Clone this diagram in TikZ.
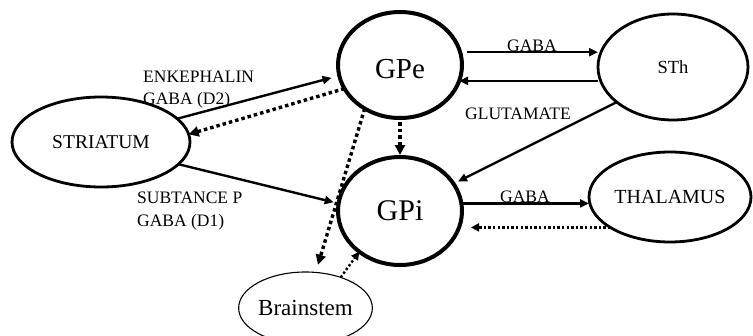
\documentclass[tikz,border=0pt]{standalone}
\usepackage{fontspec}
\setmainfont{Liberation Serif}
\usetikzlibrary{shapes.geometric,arrows.meta}

\begin{document}
\begin{tikzpicture}[x=1pt,y=-1pt,
  region/.style={ellipse, draw, line width=2.8pt, inner sep=0pt, outer sep=0pt},
  pallidum/.style={region, line width=4pt},
  feed/.style={line width=2.4pt, -{Triangle[length=9pt,width=8pt]}},
  dots/.style={line width=3.4pt, dash pattern=on 3.5pt off 3pt, -{Triangle[length=10pt,width=10pt]}},
  fine dots/.style={line width=2.4pt, dash pattern=on 2.4pt off 2.2pt, -{Triangle[length=8pt,width=8pt]}},
  tag/.style={font=\fontsize{17.5}{22}\selectfont, anchor=base west, inner sep=0pt}
]
\useasboundingbox (0,0) rectangle (753,335);

% nuclei
\node[region, minimum width=178pt, minimum height=90pt, font=\fontsize{19.5}{22}\selectfont] (stri) at (101,142) {STRIATUM};
\node[pallidum, minimum width=124pt, minimum height=106pt, font=\fontsize{29}{32}\selectfont, text height=26pt, text depth=0pt] (gpe) at (400,65) {GPe};
\node[region, minimum width=150pt, minimum height=106pt, font=\fontsize{18.5}{22}\selectfont] (sth) at (673,67) {STh};
\node[pallidum, minimum width=124pt, minimum height=108pt, font=\fontsize{30}{34}\selectfont] (gpi) at (400,211) {GPi};
\node[region, minimum width=162pt, minimum height=90pt, font=\fontsize{20}{24}\selectfont] (thal) at (670,197) {THALAMUS};
\node[region, line width=1.1pt, minimum width=115pt, minimum height=72pt, font=\fontsize{23}{26}\selectfont] (brain) at (305.5,308) {Brainstem};

% pathways
\draw[feed, shorten >=8pt] (stri.17) -- (gpe.190);
\draw[dots] (gpe.203) -- (stri.5);
\draw[feed, shorten >=5pt] (stri.-16) -- (gpi.173);
\draw[dots, shorten <=4pt, shorten >=2pt] (gpe.south) -- (gpi.north);
\draw[dots, shorten >=8pt] (gpe.231) -- (brain.74);
\draw[fine dots] (brain.41) -- (gpi.225);
\draw[feed, shorten <=7pt] (gpe.12) -- (gpe.12 -| sth.west);
\draw[feed] (sth.west |- gpe.-15) -- (gpe.-15);
\draw[feed, shorten >=5pt] (sth.212) -- (gpi.27);
\draw[feed] (gpi.7) -- (gpi.7 -| thal.west);
\draw[fine dots, shorten >=9pt] (thal.207) -- (thal.207 -| gpi.east);

% transmitter labels
\node[tag] (enk) at (143,82) {ENKEPHALIN};
\node[tag] (d2) at (143,104) {GABA (D2)};
\node[tag] (subp) at (137,203) {SUBTANCE P};
\node[tag] (d1) at (137,226) {GABA (D1)};
\node[tag, anchor=base] (gaba1) at (532,51) {GABA};
\node[tag, anchor=base] (glu) at (518,119) {GLUTAMATE};
\node[tag, anchor=base] (gaba2) at (525,202) {GABA};
\end{tikzpicture}
\end{document}
